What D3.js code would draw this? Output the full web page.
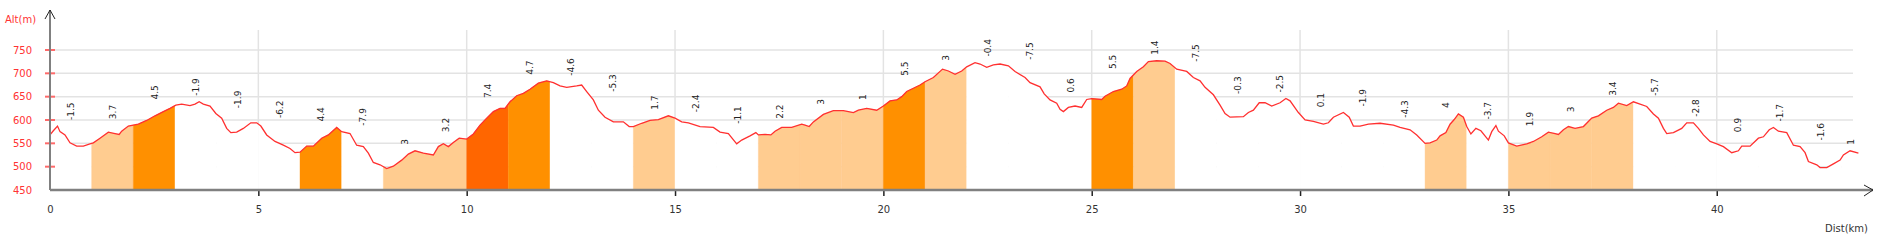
<!DOCTYPE html>
<html>
<head>
<meta charset="utf-8">
<script src="https://cdn.jsdelivr.net/npm/d3@7"></script>
<style>
	body { margin: 0; background: #fff; }
	text { font-family: "DejaVu Sans", Verdana, sans-serif; }
</style>
</head>
<body>
<svg id="profile" width="1879" height="240"></svg>
<script>
// profile: distance (km) and altitude (m)
var DIST = [
	0, 0.08, 0.18, 0.24, 0.36, 0.48, 0.64, 0.8, 0.96, 1.04, 1.2, 1.4, 1.56, 1.66, 1.72, 1.88,
	2.12, 2.32, 2.52, 2.72, 2.88, 3.02, 3.16, 3.36, 3.48, 3.58, 3.68, 3.84, 3.98, 4.12, 4.24, 4.34,
	4.48, 4.64, 4.82, 4.96, 5.06, 5.2, 5.4, 5.6, 5.76, 5.88, 6.0, 6.16, 6.32, 6.52, 6.68, 6.88,
	7.0, 7.2, 7.36, 7.52, 7.64, 7.76, 7.92, 8.08, 8.24, 8.44, 8.6, 8.76, 8.96, 9.2, 9.32, 9.44,
	9.56, 9.68, 9.82, 10.0, 10.16, 10.32, 10.48, 10.64, 10.8, 10.92, 11.04, 11.2, 11.36, 11.52, 11.72, 11.92,
	12.08, 12.24, 12.4, 12.64, 12.76, 12.88, 13.04, 13.16, 13.32, 13.52, 13.76, 13.9, 14.0, 14.2, 14.4, 14.6,
	14.84, 15.0, 15.16, 15.32, 15.6, 15.92, 16.08, 16.28, 16.48, 16.6, 16.8, 16.94, 17.0, 17.16, 17.3, 17.4,
	17.56, 17.8, 18.04, 18.12, 18.22, 18.32, 18.56, 18.8, 19.04, 19.28, 19.4, 19.6, 19.84, 20.0, 20.16, 20.32,
	20.44, 20.56, 20.72, 20.88, 21.0, 21.2, 21.42, 21.56, 21.72, 21.88, 22.0, 22.2, 22.32, 22.48, 22.64, 22.8,
	23.0, 23.16, 23.4, 23.52, 23.76, 23.86, 24.0, 24.16, 24.24, 24.32, 24.44, 24.6, 24.76, 24.88, 25.0, 25.24,
	25.32, 25.52, 25.72, 25.84, 25.92, 26.08, 26.24, 26.36, 26.56, 26.76, 26.88, 27.04, 27.28, 27.44, 27.6, 27.72,
	27.92, 28.08, 28.2, 28.32, 28.64, 28.76, 28.88, 29.02, 29.16, 29.32, 29.52, 29.66, 29.76, 29.96, 30.12, 30.32,
	30.56, 30.68, 30.8, 31.04, 31.18, 31.28, 31.44, 31.64, 31.92, 32.24, 32.4, 32.64, 32.8, 33.0, 33.12, 33.28,
	33.36, 33.5, 33.6, 33.7, 33.8, 33.92, 34.0, 34.1, 34.22, 34.34, 34.52, 34.6, 34.7, 34.76, 34.9, 35.0,
	35.2, 35.44, 35.6, 35.8, 35.96, 36.12, 36.2, 36.32, 36.44, 36.6, 36.8, 37.0, 37.16, 37.36, 37.52, 37.64,
	37.84, 38.0, 38.16, 38.32, 38.48, 38.6, 38.72, 38.8, 38.96, 39.16, 39.28, 39.44, 39.56, 39.68, 39.84, 40.0,
	40.16, 40.36, 40.52, 40.6, 40.8, 41.0, 41.12, 41.26, 41.36, 41.48, 41.68, 41.84, 42.0, 42.12, 42.2, 42.4,
	42.48, 42.64, 42.8, 42.96, 43.04, 43.2, 43.4
];
var ALT = [
	568, 577, 587, 575, 568, 551, 544, 544, 549, 551, 561, 574, 571, 569, 576, 587,
	591, 599, 609, 618, 625, 632, 634, 631, 634, 639, 634, 630, 614, 604, 582, 573,
	574, 582, 594, 594, 587, 568, 554, 546, 539, 530, 531, 544, 544, 561, 568, 584,
	575, 571, 546, 543, 529, 509, 504, 496, 501, 514, 527, 534, 529, 525, 543, 549,
	543, 552, 561, 559, 570, 589, 604, 618, 625, 625, 639, 652, 657, 666, 679, 684,
	680, 673, 670, 673, 675, 661, 643, 621, 606, 596, 596, 586, 586, 593, 599, 601,
	609, 604, 596, 594, 586, 584, 574, 571, 549, 557, 566, 573, 568, 569, 568, 576,
	584, 584, 591, 589, 586, 596, 612, 620, 620, 616, 621, 625, 621, 630, 641, 643,
	650, 661, 668, 675, 682, 691, 709, 705, 698, 705, 714, 723, 720, 713, 718, 720,
	716, 704, 691, 680, 671, 656, 643, 636, 623, 618, 627, 630, 627, 644, 646, 644,
	651, 661, 666, 673, 689, 704, 714, 725, 727, 726, 721, 709, 704, 691, 684, 670,
	654, 632, 614, 606, 607, 616, 621, 637, 637, 630, 637, 646, 641, 616, 600, 597,
	591, 594, 606, 616, 606, 587, 587, 591, 593, 589, 584, 579, 568, 550, 551, 557,
	566, 573, 591, 601, 613, 606, 586, 570, 582, 577, 557, 575, 588, 576, 566, 551,
	544, 549, 554, 564, 574, 571, 569, 579, 586, 582, 586, 604, 609, 621, 627, 636,
	631, 639, 634, 629, 613, 604, 582, 571, 573, 582, 594, 594, 582, 568, 554, 549,
	543, 530, 534, 544, 544, 561, 564, 579, 584, 576, 573, 546, 543, 530, 511, 504,
	498, 498, 506, 514, 525, 534, 529
];
// slope (%) of each kilometre
var SLOPES = [
	-1.5, 3.7, 4.5, -1.9, -1.9, -6.2, 4.4, -7.9, 3, 3.2, 7.4, 4.7, -4.6, -5.3, 1.7, -2.4,
	-1.1, 2.2, 3, 1, 5.5, 3, -0.4, -7.5, 0.6, 5.5, 1.4, -7.5, -0.3, -2.5, 0.1, -1.9,
	-4.3, 4, -3.7, 1.9, 3, 3.4, -5.7, -2.8, 0.9, -1.7, -1.6, 0.96
];
var Y_TICKS = [450, 500, 550, 600, 650, 700, 750];
var X_TICKS = [0, 5, 10, 15, 20, 25, 30, 35, 40];

PROFILE = {
	init: function() {
		var svg = d3.select('#profile');
		var x = d3.scaleLinear().domain([0, 43.27]).range([50, 1853]);
		var y = d3.scaleLinear().domain([450, 750]).range([190, 50]);
		var fill = d3.scaleThreshold()
			.domain([1, 4.1, 7])
			.range(['#ffffff', '#ffcc90', '#ff9000', '#ff6600']);

		var pts = DIST.map(function(d, i) {
			return [d, ALT[i]];
		});
		var last = DIST[DIST.length - 1];
		var altAt = function(km) {
			var i = d3.bisectLeft(DIST, km);
			if (i <= 0) return ALT[0];
			if (i >= DIST.length) return ALT[ALT.length - 1];
			var t = (km - DIST[i - 1]) / (DIST[i] - DIST[i - 1]);
			return ALT[i - 1] + t * (ALT[i] - ALT[i - 1]);
		};
		var segs = SLOPES.map(function(s, i) {
			var a = i, b = Math.min(i + 1, last);
			var inner = pts.filter(function(p) {
				return p[0] > a && p[0] < b;
			});
			var sp = [[a, altAt(a)]].concat(inner, [[b, altAt(b)]]);
			return {
				slope: s,
				mid: (a + b) / 2,
				top: d3.max(sp, function(p) { return p[1]; }),
				points: sp
			};
		});

		// grid
		svg.append('g').selectAll('line')
			.data(Y_TICKS.slice(1))
			.enter()
			.append('line')
			.attr('x1', x(0))
			.attr('x2', x(43.27))
			.attr('y1', function(d) { return y(d); })
			.attr('y2', function(d) { return y(d); })
			.attr('stroke', '#e3e3e3')
			.attr('stroke-width', 1.5);
		svg.append('g').selectAll('line')
			.data(X_TICKS.slice(1))
			.enter()
			.append('line')
			.attr('x1', function(d) { return x(d); })
			.attr('x2', function(d) { return x(d); })
			.attr('y1', y.range()[1] - 20)
			.attr('y2', y.range()[0])
			.attr('stroke', '#e3e3e3')
			.attr('stroke-width', 1.5);

		// slope labels (under the fills, like the original)
		svg.append('g').selectAll('text')
			.data(segs)
			.enter()
			.append('text')
			.attr('transform', function(d) {
				return 'translate(' + (x(d.mid) + 3.5) + ',' + (y(d.top) - 6) + ') rotate(-90)';
			})
			.attr('font-size', 9)
			.attr('fill', '#222')
			.text(function(d) {
				return String(Math.round(d.slope * 10) / 10);
			});

		var area = d3.area()
			.x(function(p) { return x(p[0]); })
			.y0(y(450))
			.y1(function(p) { return y(p[1]); });
		svg.append('g').selectAll('path')
			.data(segs)
			.enter()
			.append('path')
			.attr('d', function(d) { return area(d.points); })
			.attr('fill', function(d) { return fill(d.slope); })
			.attr('stroke', function(d) { return fill(d.slope); })
			.attr('stroke-width', 0.4);

		svg.append('path')
			.attr('d', d3.line()
				.x(function(p) { return x(p[0]); })
				.y(function(p) { return y(p[1]); })(pts))
			.attr('fill', 'none')
			.attr('stroke', '#ff3030')
			.attr('stroke-width', 1.3);

		// y axis
		var yAxis = svg.append('g')
			.attr('transform', 'translate(' + x(0) + ',0)')
			.call(d3.axisLeft(y).tickValues(Y_TICKS).tickSize(0).tickPadding(18));
		yAxis.select('.domain').remove();
		yAxis.selectAll('text')
			.attr('font-size', 10)
			.attr('font-family', '"DejaVu Sans", Verdana, sans-serif')
			.attr('fill', '#ff3333');
		svg.append('g').selectAll('line')
			.data(Y_TICKS.slice(1))
			.enter()
			.append('line')
			.attr('x1', x(0) - 5)
			.attr('x2', x(0) + 5)
			.attr('y1', function(d) { return y(d); })
			.attr('y2', function(d) { return y(d); })
			.attr('stroke', '#ff6a6a')
			.attr('stroke-width', 2);
		svg.append('line')
			.attr('x1', x(0)).attr('x2', x(0))
			.attr('y1', 10).attr('y2', y(450))
			.attr('stroke', '#808080')
			.attr('stroke-width', 2);
		svg.append('path')
			.attr('d', 'M' + (x(0) - 5) + ',19L' + x(0) + ',10L' + (x(0) + 5) + ',19')
			.attr('fill', 'none')
			.attr('stroke', '#222')
			.attr('stroke-width', 1);
		svg.append('text')
			.attr('x', 5)
			.attr('y', 23)
			.attr('font-size', 10)
			.attr('fill', '#ff3333')
			.text('Alt(m)');

		// x axis
		var xAxis = svg.append('g')
			.attr('transform', 'translate(0,' + y(450) + ')')
			.call(d3.axisBottom(x).tickValues(X_TICKS).tickSize(6).tickPadding(10));
		xAxis.select('.domain').remove();
		xAxis.selectAll('.tick line')
			.attr('stroke', '#222')
			.attr('stroke-width', 1.5)
			.filter(function(d) { return d === 0; })
			.remove();
		xAxis.selectAll('text')
			.attr('font-size', 10)
			.attr('font-family', '"DejaVu Sans", Verdana, sans-serif')
			.attr('fill', '#333');
		svg.append('line')
			.attr('x1', x(0)).attr('x2', 1873)
			.attr('y1', y(450)).attr('y2', y(450))
			.attr('stroke', '#808080')
			.attr('stroke-width', 2.5);
		svg.append('path')
			.attr('d', 'M1864,185L1873,' + y(450) + 'L1864,196')
			.attr('fill', 'none')
			.attr('stroke', '#222')
			.attr('stroke-width', 1);
		svg.append('text')
			.attr('x', 1868)
			.attr('y', 232)
			.attr('text-anchor', 'end')
			.attr('font-size', 10)
			.attr('fill', '#333')
			.text('Dist(km)');
	}
};

PROFILE.init();
</script>
</body>
</html>
